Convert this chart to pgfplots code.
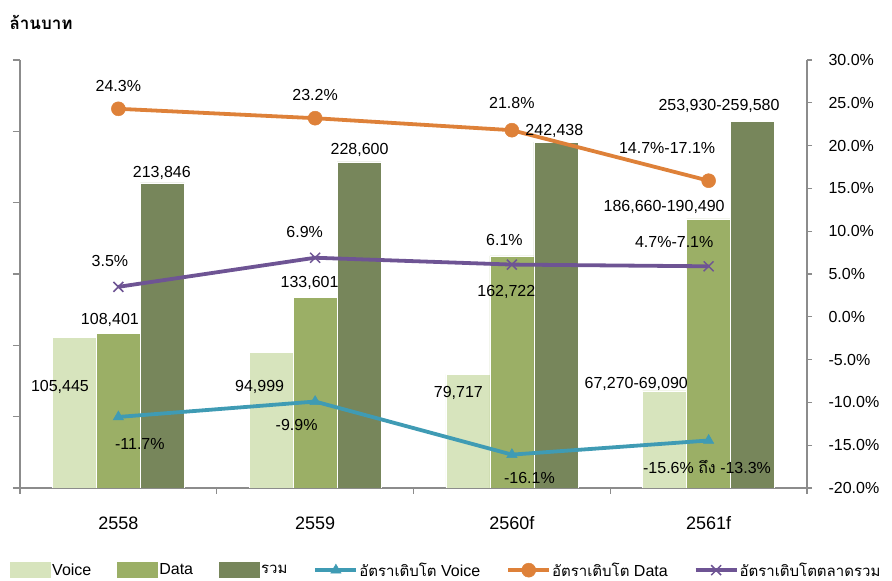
\documentclass[border=0pt]{standalone}
\usepackage{fontspec}
\setmainfont{Liberation Sans}
\newfontfamily\thaifont[Script=Thai]{Loma}
\usepackage{pgfplots}
\pgfplotsset{compat=1.18}
\definecolor{cvoice}{HTML}{D7E4BD}
\definecolor{cdata}{HTML}{9BAF66}
\definecolor{ctotal}{HTML}{77865B}
\definecolor{lvoice}{HTML}{3F9BB4}
\definecolor{ldata}{HTML}{DE8139}
\definecolor{ltotal}{HTML}{6E5494}
\definecolor{axisgray}{HTML}{8C8C8C}
\newcommand{\lab}{\fontsize{16}{18}\selectfont}
\newcommand{\thl}{\thaifont\fontsize{15}{17}\selectfont}
\pgfplotsset{
  barlegend/.style={legend image code/.code={\fill[##1] (0pt,-8pt) rectangle (41pt,8pt);}},
  linelegend/.style={legend image code/.code={\draw[mark repeat=2,mark phase=2,##1] plot coordinates {(0pt,0pt)(20.5pt,0pt)(41pt,0pt)};}},
}
\begin{document}
\begin{tikzpicture}[x=1pt,y=1pt]
\useasboundingbox (0,0) rectangle (892,581);
\node[anchor=west, font=\thaifont\bfseries\fontsize{17}{19}\selectfont] at (6,559) {ล้านบาท};
\begin{axis}[
  at={(20pt,93pt)}, anchor=south west,
  width=787pt, height=428pt, scale only axis,
  xmin=-0.5, xmax=3.5, ymin=0, ymax=300000,
  ybar=0pt, bar width=44pt,
  axis y line*=left, axis x line*=bottom,
  axis line style={axisgray, line width=1.2pt},
  ytick={0,50000,...,300000}, yticklabels={},
  scaled y ticks=false,
  tick align=outside,
  major tick length=7pt,
  minor tick length=6pt,
  every tick/.style={axisgray, line width=1.2pt},
  xtick={0,1,2,3}, xticklabels={2558,2559,2560f,2561f},
  major x tick style={draw=none},
  minor xtick={-0.5,0.5,1.5,2.5,3.5},
  xticklabel style={font=\fontsize{18}{20}\selectfont, yshift=-18pt},
]
\addplot[fill=cvoice, draw=white, line width=0.4pt] coordinates {(0,105445)(1,94999)(2,79717)(3,68180)};
\addplot[fill=cdata, draw=white, line width=0.4pt] coordinates {(0,108401)(1,133601)(2,162722)(3,188575)};
\addplot[fill=ctotal, draw=white, line width=0.4pt] coordinates {(0,213846)(1,228600)(2,242438)(3,256755)};
\end{axis}
\begin{axis}[
  at={(20pt,93pt)}, anchor=south west,
  width=787pt, height=428pt, scale only axis,
  xmin=-0.5, xmax=3.5, ymin=-20, ymax=30,
  axis y line*=right, axis x line=none,
  axis line style={axisgray, line width=1.2pt},
  ytick={-20,-15,...,30},
  tick align=outside,
  major tick length=5pt,
  every tick/.style={axisgray, line width=1.2pt},
  /pgf/number format/assume math mode=true,
  yticklabel={\pgfmathprintnumber[fixed,fixed zerofill,precision=1]{\tick}\%},
  yticklabel style={font=\lab, xshift=13pt},
  legend columns=6,
  legend cell align=left,
  legend style={at={(-0.0127,-0.192)}, anchor=west, draw=none, fill=none,
    inner sep=0pt, font=\lab, nodes={inner sep=1pt},
    /tikz/every even column/.append style={column sep=25pt}},
]
\addlegendimage{barlegend, fill=cvoice, draw=none}
\addlegendentry{Voice}
\addlegendimage{barlegend, fill=cdata, draw=none}
\addlegendentry{Data}
\addlegendimage{barlegend, fill=ctotal, draw=none}
\addlegendentry{{\thl รวม}}
\addplot[linelegend, lvoice, line width=3.8pt, mark=triangle*, mark size=6pt, mark options={line width=0.5pt}] coordinates {(0,-11.7)(1,-9.9)(2,-16.1)(3,-14.45)};
\addlegendentry{{\thl อัตราเติบโต} Voice}
\addplot[linelegend, ldata, line width=3.8pt, mark=*, mark size=7pt, mark options={line width=0.5pt}] coordinates {(0,24.3)(1,23.2)(2,21.8)(3,15.9)};
\addlegendentry{{\thl อัตราเติบโต} Data}
\addplot[linelegend, ltotal, line width=3.8pt, mark=x, mark size=7pt, mark options={line width=1.5pt}] coordinates {(0,3.5)(1,6.9)(2,6.1)(3,5.9)};
\addlegendentry{{\thl อัตราเติบโตตลาดรวม}}
% bar value labels
\node[font=\lab] at (axis cs:-0.297,-8.2) {105,445};
\node[font=\lab] at (axis cs:-0.043,-0.37) {108,401};
\node[font=\lab] at (axis cs:0.221,16.8) {213,846};
\node[font=\lab] at (axis cs:0.718,-8.2) {94,999};
\node[font=\lab] at (axis cs:0.972,3.95) {133,601};
\node[font=\lab] at (axis cs:1.226,19.49) {228,600};
\node[font=\lab] at (axis cs:1.728,-8.9) {79,717};
\node[font=\lab] at (axis cs:1.972,2.9) {162,722};
\node[font=\lab] at (axis cs:2.216,21.7) {242,438};
\node[font=\lab] at (axis cs:2.632,-7.85) {67,270-69,090};
\node[font=\lab] at (axis cs:2.774,12.83) {186,660-190,490};
\node[font=\lab] at (axis cs:3.053,24.63) {253,930-259,580};
% growth labels
\node[font=\lab] at (axis cs:0.0,26.96) {24.3\%};
\node[font=\lab] at (axis cs:1.0,25.91) {23.2\%};
\node[font=\lab] at (axis cs:2.0,24.98) {21.8\%};
\node[font=\lab] at (axis cs:2.789,19.72) {14.7\%-17.1\%};
\node[font=\lab] at (axis cs:-0.043,6.52) {3.5\%};
\node[font=\lab] at (axis cs:0.947,9.91) {6.9\%};
\node[font=\lab] at (axis cs:1.962,8.97) {6.1\%};
\node[font=\lab] at (axis cs:2.825,8.74) {4.7\%-7.1\%};
\node[font=\lab] at (axis cs:0.109,-14.86) {-11.7\%};
\node[font=\lab] at (axis cs:0.906,-12.64) {-9.9\%};
\node[font=\lab] at (axis cs:2.089,-18.83) {-16.1\%};
\node[font=\lab] at (axis cs:2.992,-17.55) {-15.6\% {\thaifont ถึง} -13.3\%};
\end{axis}
\end{tikzpicture}
\end{document}
